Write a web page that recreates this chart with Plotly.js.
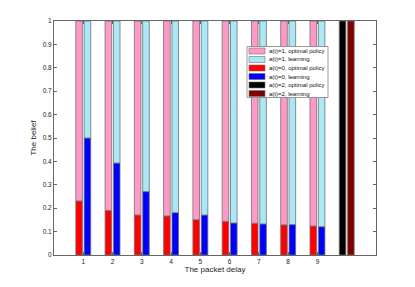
<!DOCTYPE html>
<html>
<head>
<meta charset="utf-8">
<script src="https://cdn.plot.ly/plotly-3.0.1.min.js"></script>
<style>html,body{margin:0;padding:0;background:#fff;}#chart{width:415px;height:287px;}</style>
</head>
<body>
<div id="chart"></div>
<script>
// ---- data ----
const delays = [1, 2, 3, 4, 5, 6, 7, 8, 9];
const optimalA0 = [0.231, 0.190, 0.171, 0.167, 0.151, 0.144, 0.136, 0.129, 0.124];
const optimalA1 = [0.769, 0.810, 0.829, 0.833, 0.849, 0.856, 0.864, 0.871, 0.876];
const learningA0 = [0.500, 0.393, 0.271, 0.181, 0.171, 0.137, 0.133, 0.130, 0.121];
const learningA1 = [0.500, 0.607, 0.729, 0.819, 0.829, 0.863, 0.867, 0.870, 0.879];
const a2Delay = [10];
const optimalA2 = [1];
const learningA2 = [1];
const xTicks = [1, 2, 3, 4, 5, 6, 7, 8, 9];
const xTickLabels = ['1', '2', '3', '4', '5', '6', '7', '8', '9'];
const yTicks = [0, 0.1, 0.2, 0.3, 0.4, 0.5, 0.6, 0.7, 0.8, 0.9, 1];
const yTickLabels = ['0', '0.1', '0.2', '0.3', '0.4', '0.5', '0.6', '0.7', '0.8', '0.9', '1'];
const legendLabels = ['a(t)=1, optimal policy', 'a(t)=1, learning', 'a(t)=0, optimal policy',
                      'a(t)=0, learning', 'a(t)=2, optimal policy', 'a(t)=2, learning'];
const legendColors = ['#ff99c8', '#aae8f8', '#ff0000', '#0000ff', '#000000', '#7f0000'];

// ---- drawing ----
const W = 0.225, offL = -0.255, offR = 0.03;
const edge = {color: '#707070', width: 0.8};
function bar(x, y, base, off, color) {
  const t = {type: 'bar', x: x, y: y, offset: off, width: W,
             marker: {color: color, line: edge}, showlegend: false, hoverinfo: 'skip'};
  if (base) t.base = base;
  return t;
}
const data = [
  bar(delays, optimalA0, null, offL, legendColors[2]),
  bar(delays, optimalA1, optimalA0, offL, legendColors[0]),
  bar(delays, learningA0, null, offR, legendColors[3]),
  bar(delays, learningA1, learningA0, offR, legendColors[1]),
  bar(a2Delay, optimalA2, null, offL, legendColors[4]),
  bar(a2Delay, learningA2, null, offR, legendColors[5])
];

// custom compact legend (MATLAB style)
const L = 54, T = 21, PW = 322, PH = 234;
const px = v => (v - L) / PW;
const py = v => (T + PH - v) / PH;
const shapes = [{type: 'rect', xref: 'paper', yref: 'paper',
  x0: px(247), x1: px(328), y0: py(97.5), y1: py(46.5),
  fillcolor: '#ffffff', line: {color: '#808080', width: 0.8}, layer: 'above'}];
const annotations = [];
legendLabels.forEach((lab, i) => {
  const cy = 51 + i * 8.5;
  shapes.push({type: 'rect', xref: 'paper', yref: 'paper',
    x0: px(249), x1: px(265), y0: py(cy + 3), y1: py(cy - 3),
    fillcolor: legendColors[i], line: {color: '#707070', width: 0.6}, layer: 'above'});
  annotations.push({xref: 'paper', yref: 'paper', x: px(266.5), y: py(cy),
    xanchor: 'left', yanchor: 'middle', showarrow: false, text: lab,
    font: {family: 'Liberation Sans, Arial, sans-serif', size: 6, color: '#111'}});
});

const layout = {
  width: 415, height: 287,
  margin: {l: 54, r: 39, t: 21, b: 32, pad: 0},
  paper_bgcolor: '#ffffff', plot_bgcolor: '#ffffff',
  barmode: 'overlay', showlegend: false,
  font: {family: 'Liberation Sans, Arial, sans-serif', size: 6.5, color: '#222'},
  xaxis: {range: [0, 11], tickvals: xTicks, ticktext: xTickLabels,
    ticks: 'inside', ticklen: 3, tickcolor: '#666', showline: true, linecolor: '#666',
    linewidth: 1, mirror: 'ticks', showgrid: false, zeroline: false,
    tickfont: {size: 6.5, color: '#222'},
    title: {text: 'The packet delay', font: {size: 8, color: '#222'}, standoff: 2}},
  yaxis: {range: [0, 1], tickvals: yTicks, ticktext: yTickLabels,
    ticks: 'inside', ticklen: 3, tickcolor: '#666', showline: true, linecolor: '#666',
    linewidth: 1, mirror: 'ticks', showgrid: false, zeroline: false,
    tickfont: {size: 6.5, color: '#222'},
    title: {text: 'The belief', font: {size: 8, color: '#222'}, standoff: 4}},
  shapes: shapes, annotations: annotations
};
Plotly.newPlot('chart', data, layout, {staticPlot: true, displayModeBar: false});
</script>
</body>
</html>
